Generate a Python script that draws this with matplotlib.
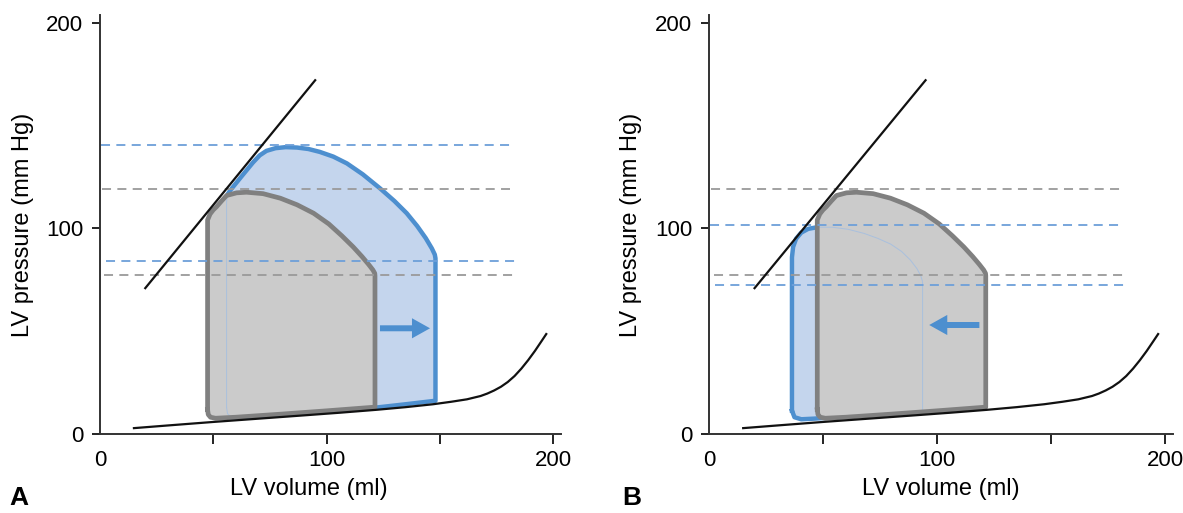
import matplotlib.pyplot as plt

plt.rcParams['font.family'] = ['Liberation Sans', 'DejaVu Sans']

# end-systolic pressure-volume relation (straight line)
espvr_v = [20, 95]
espvr_p = [71, 172]

# end-diastolic pressure-volume relation
edpvr_v = [15, 30, 50, 70, 90, 106, 122, 135, 147, 155, 162, 168, 171, 174, 177, 180, 183, 186, 189, 192, 195, 197]
edpvr_p = [3.0, 4.3, 6.0, 7.6, 9.2, 10.5, 11.9, 13.2, 14.6, 15.8, 17.0, 18.6, 19.8, 21.3, 23.1, 25.4, 28.3, 31.9, 36.0, 40.5, 45.4, 48.7]

# control loop (grey), same in both panels
ctrl_v = [47.5, 47.5, 48.6, 50.0, 51.5, 53.8, 55.9, 60.3, 64.7, 72.0, 79.6, 87.0, 94.3, 101.0,
          106.8, 111.8, 115.7, 118.6, 120.5, 121.3, 121.4, 121.4, 100.0, 80.0, 60.0, 51.0, 48.8, 47.8, 47.5]
ctrl_p = [12.0, 104.1, 107.0, 109.0, 110.6, 113.5, 116.0, 117.3, 117.6, 116.9, 114.7, 111.5, 107.4, 102.2,
          96.4, 91.0, 86.3, 82.5, 79.8, 78.2, 77.0, 13.2, 11.4, 9.8, 8.3, 7.8, 8.3, 9.6, 12.0]
ctrl_dash = [119.3, 77.6]

# panel A: increased preload
a_v = [55.9, 55.9, 56.3, 57.5, 62.5, 67.5, 70.5, 73.5, 77.5, 82.0, 87.0, 92.0, 97.0, 103.0, 109.0,
       116.0, 123.6, 130.0, 135.4, 140.0, 143.8, 146.5, 147.8, 148.1, 148.1, 135.0, 122.0, 100.0,
       80.0, 62.0, 58.0, 56.3, 55.9]
a_p = [13.0, 113.0, 116.5, 118.5, 125.3, 132.0, 135.5, 137.7, 139.0, 139.5, 139.3, 138.6, 137.2, 134.9,
       131.6, 126.3, 119.5, 113.3, 107.4, 101.2, 95.3, 90.3, 87.3, 85.5, 16.3, 14.6, 13.0, 11.0,
       9.5, 8.3, 8.4, 10.0, 13.0]
a_dash = [140.3, 84.4]
a_arrow = [123.6, 145.7, 51.5]

# panel B: smaller loop, shifted left
b_v = [36.4, 36.4, 36.9, 38.2, 40.5, 43.5, 47.5, 54.0, 61.0, 68.0, 74.0, 79.7, 84.5, 88.3, 91.2,
       92.9, 93.6, 93.7, 93.7, 80.0, 60.0, 46.0, 40.5, 37.5, 36.4]
b_p = [11.5, 86.0, 91.0, 95.0, 98.0, 99.8, 100.6, 100.6, 99.6, 97.6, 95.2, 92.4, 88.8, 84.7, 80.5,
       77.0, 74.5, 73.0, 11.0, 10.0, 8.6, 7.6, 7.3, 8.3, 11.5]
b_dash = [101.7, 72.5]
b_arrow = [118.6, 96.6, 53.1]

blue = '#4d8fcf'
blue_fill = '#c4d5ed'
blue_dash = '#6d9fd9'
grey = '#808080'
grey_fill = '#cbcbcb'
grey_dash = '#9a9a9a'


def draw_panel(ax, v, p, dash, arrow, xlab_x):
    ax.fill(v, p, color=blue_fill, zorder=1)
    ax.plot(v, p, color=blue, lw=3.2, zorder=2, solid_joinstyle='round')
    gpatch = ax.fill(ctrl_v, ctrl_p, color=grey_fill, zorder=3)[0]
    # faint outline of the blue loop seen through the grey one
    faint, = ax.plot(v, p, color='#a9c0de', lw=0.7, zorder=4)
    faint.set_clip_path(gpatch)
    ax.plot(ctrl_v, ctrl_p, color=grey, lw=3.4, zorder=5, solid_joinstyle='round')

    ax.plot([0.8, 181], [ctrl_dash[0]] * 2, color=grey_dash, lw=1.3, dashes=(5, 3.5), zorder=6)
    ax.plot([2, 183], [ctrl_dash[1]] * 2, color=grey_dash, lw=1.3, dashes=(5, 3.5), zorder=6)
    ax.plot([0.5, 181], [dash[0]] * 2, color=blue_dash, lw=1.3, dashes=(5, 3.5), zorder=6)
    ax.plot([2.5, 183], [dash[1]] * 2, color=blue_dash, lw=1.3, dashes=(5, 3.5), zorder=6)

    ax.plot(espvr_v, espvr_p, color='#111111', lw=1.6, zorder=7)
    ax.plot(edpvr_v, edpvr_p, color='#111111', lw=1.6, zorder=7)

    ax.annotate('', xy=(arrow[1], arrow[2]), xytext=(arrow[0], arrow[2]),
                arrowprops=dict(arrowstyle='simple,head_length=1.3,head_width=1.45,tail_width=0.43',
                                mutation_scale=10, color=blue, lw=0, shrinkA=0, shrinkB=0),
                zorder=8)

    ax.set_xlim(0, 203.5)
    ax.set_ylim(0, 203.7)
    ax.set_xticks([0, 50, 100, 150, 200])
    ax.set_xticklabels(['0', '', '100', '', '200'])
    ax.set_yticks([0, 100, 200])
    ax.xaxis.get_major_ticks()[0].tick1line.set_visible(False)
    for s in ['top', 'right']:
        ax.spines[s].set_visible(False)
    for s in ['left', 'bottom']:
        ax.spines[s].set_color('#333333')
        ax.spines[s].set_linewidth(1.4)
    ax.tick_params(axis='x', length=7, width=1.4, color='#222222', labelsize=16, pad=4)
    ax.tick_params(axis='y', length=6, width=1.4, color='#222222', labelsize=16, pad=6)
    ax.set_xlabel('LV volume (ml)', fontsize=17)
    ax.set_ylabel('LV pressure (mm Hg)', fontsize=17)
    ax.xaxis.set_label_coords(xlab_x, -0.130)
    ax.xaxis.label.set_va('center')
    ax.yaxis.set_label_coords(-0.168, 0.5)
    ax.yaxis.label.set_va('center')


fig = plt.figure(figsize=(11.83, 5.13), dpi=100)
ax1 = fig.add_axes([0.0845, 0.1534, 0.3897, 0.8174])
ax2 = fig.add_axes([0.5993, 0.1534, 0.3922, 0.8174])

draw_panel(ax1, a_v, a_p, a_dash, a_arrow, 0.453)
draw_panel(ax2, b_v, b_p, b_dash, b_arrow, 0.5)

fig.text(0.008, 0.005, 'A', fontsize=19, fontweight='bold', ha='left', va='bottom')
fig.text(0.526, 0.005, 'B', fontsize=19, fontweight='bold', ha='left', va='bottom')

fig.savefig('out.png', dpi=100)
